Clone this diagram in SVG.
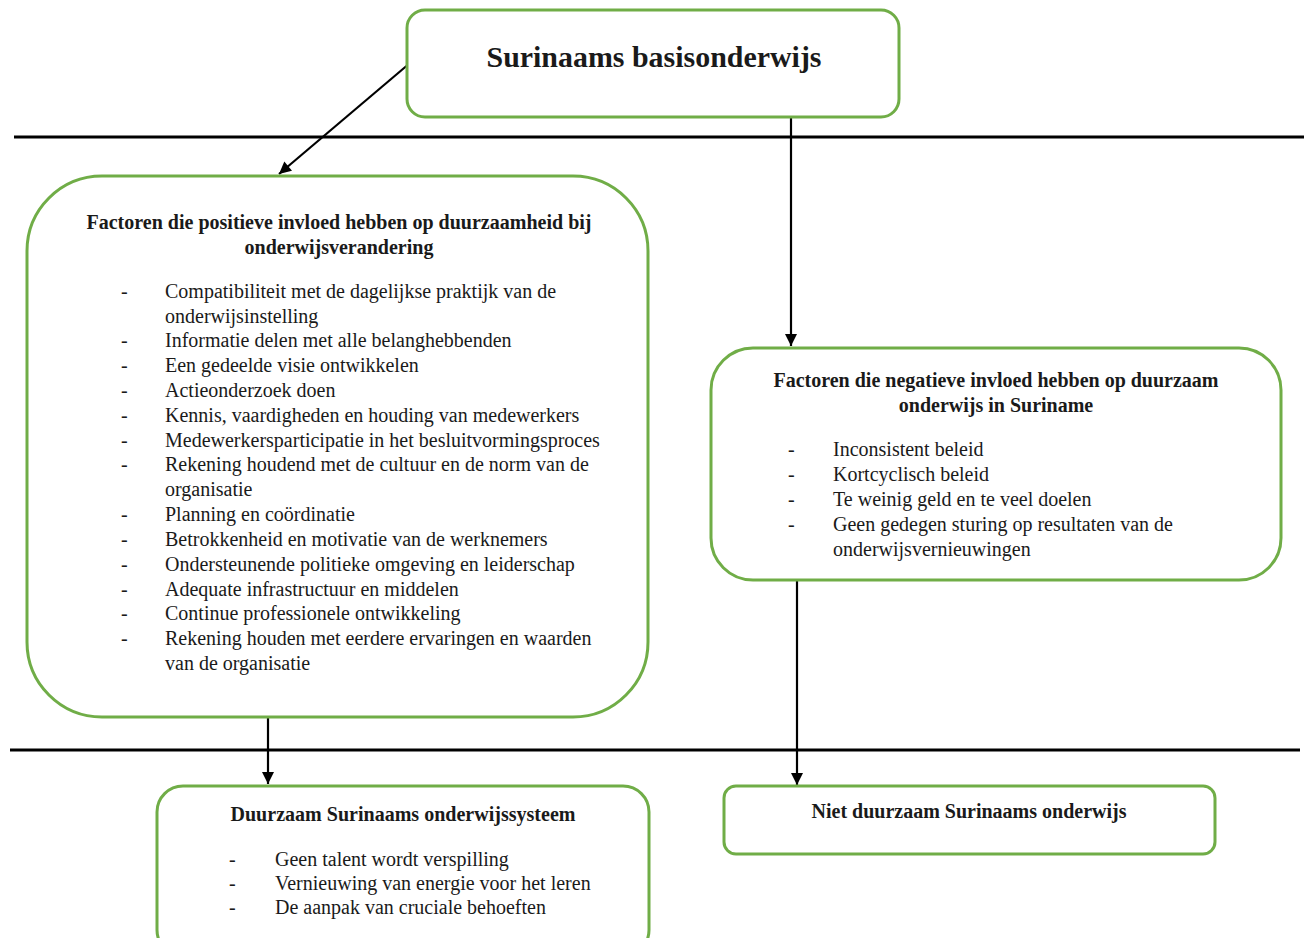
<svg xmlns="http://www.w3.org/2000/svg" width="1304" height="938" viewBox="0 0 1304 938">
<defs>
<style>
.box{fill:#fff;stroke:#70ad47;stroke-width:3}
.h{font-weight:bold;fill:#1a1a1a;text-anchor:middle}
.t{font-size:20px;fill:#1a1a1a}
.rule{stroke:#000;stroke-width:3}
.con{stroke:#000;stroke-width:2.2;fill:none}
</style>
<marker id="ah" viewBox="0 0 10 10" refX="10" refY="5" markerWidth="6" markerHeight="5.5" markerUnits="strokeWidth" orient="auto">
<path d="M0,0 L10,5 L0,10 z" fill="#000"/>
</marker>
</defs>
<rect width="1304" height="938" fill="#fff"/>
<g id="rules">
<line class="rule" x1="14" y1="137" x2="1304" y2="137"/>
<line class="rule" x1="10" y1="750" x2="1300" y2="750"/>
</g>
<g id="connectors">
<line class="con" x1="410" y1="63" x2="279" y2="174" marker-end="url(#ah)"/>
<line class="con" x1="791" y1="117" x2="791" y2="346" marker-end="url(#ah)"/>
<line class="con" x1="268" y1="717" x2="268" y2="784" marker-end="url(#ah)"/>
<line class="con" x1="797" y1="580" x2="797" y2="785" marker-end="url(#ah)"/>
</g>
<g font-family="Liberation Serif, Times New Roman, Times, serif">
<g id="node-top">
<rect class="box" x="407" y="10" width="492" height="107" rx="18"/>
<text class="h" x="654" y="67" font-size="30" textLength="335" lengthAdjust="spacingAndGlyphs">Surinaams basisonderwijs</text>
</g>
<g id="node-positive">
<rect class="box" x="27" y="176" width="621" height="541" rx="75"/>
<text class="h" x="339" y="229" font-size="20" textLength="505" lengthAdjust="spacingAndGlyphs">Factoren die positieve invloed hebben op duurzaamheid bij</text>
<text class="h" x="339" y="254" font-size="20">onderwijsverandering</text>
<g class="t">
<text x="121" y="298">-</text><text x="165" y="298">Compatibiliteit met de dagelijkse praktijk van de</text>
<text x="165" y="323">onderwijsinstelling</text>
<text x="121" y="347">-</text><text x="165" y="347">Informatie delen met alle belanghebbenden</text>
<text x="121" y="372">-</text><text x="165" y="372">Een gedeelde visie ontwikkelen</text>
<text x="121" y="397">-</text><text x="165" y="397">Actieonderzoek doen</text>
<text x="121" y="422">-</text><text x="165" y="422">Kennis, vaardigheden en houding van medewerkers</text>
<text x="121" y="447">-</text><text x="165" y="447">Medewerkersparticipatie in het besluitvormingsproces</text>
<text x="121" y="471">-</text><text x="165" y="471">Rekening houdend met de cultuur en de norm van de</text>
<text x="165" y="496">organisatie</text>
<text x="121" y="521">-</text><text x="165" y="521">Planning en coördinatie</text>
<text x="121" y="546">-</text><text x="165" y="546">Betrokkenheid en motivatie van de werknemers</text>
<text x="121" y="571">-</text><text x="165" y="571">Ondersteunende politieke omgeving en leiderschap</text>
<text x="121" y="596">-</text><text x="165" y="596">Adequate infrastructuur en middelen</text>
<text x="121" y="620">-</text><text x="165" y="620">Continue professionele ontwikkeling</text>
<text x="121" y="645">-</text><text x="165" y="645">Rekening houden met eerdere ervaringen en waarden</text>
<text x="165" y="670">van de organisatie</text>
</g>
</g>
<g id="node-negative">
<rect class="box" x="711" y="348" width="570" height="232" rx="42"/>
<text class="h" x="996" y="387" font-size="20" textLength="445" lengthAdjust="spacingAndGlyphs">Factoren die negatieve invloed hebben op duurzaam</text>
<text class="h" x="996" y="412" font-size="20">onderwijs in Suriname</text>
<g class="t">
<text x="788" y="456">-</text><text x="833" y="456">Inconsistent beleid</text>
<text x="788" y="481">-</text><text x="833" y="481">Kortcyclisch beleid</text>
<text x="788" y="506">-</text><text x="833" y="506">Te weinig geld en te veel doelen</text>
<text x="788" y="531">-</text><text x="833" y="531">Geen gedegen sturing op resultaten van de</text>
<text x="833" y="556">onderwijsvernieuwingen</text>
</g>
</g>
<g id="node-sustainable">
<rect class="box" x="157" y="786" width="492" height="170" rx="26"/>
<text class="h" x="403" y="821" font-size="20" textLength="345" lengthAdjust="spacingAndGlyphs">Duurzaam Surinaams onderwijssysteem</text>
<g class="t">
<text x="229" y="866">-</text><text x="275" y="866">Geen talent wordt verspilling</text>
<text x="229" y="890">-</text><text x="275" y="890">Vernieuwing van energie voor het leren</text>
<text x="229" y="914">-</text><text x="275" y="914">De aanpak van cruciale behoeften</text>
</g>
</g>
<g id="node-unsustainable">
<rect class="box" x="724" y="786" width="491" height="68" rx="12"/>
<text class="h" x="969" y="818" font-size="20" textLength="315" lengthAdjust="spacingAndGlyphs">Niet duurzaam Surinaams onderwijs</text>
</g>
</g>
</svg>
